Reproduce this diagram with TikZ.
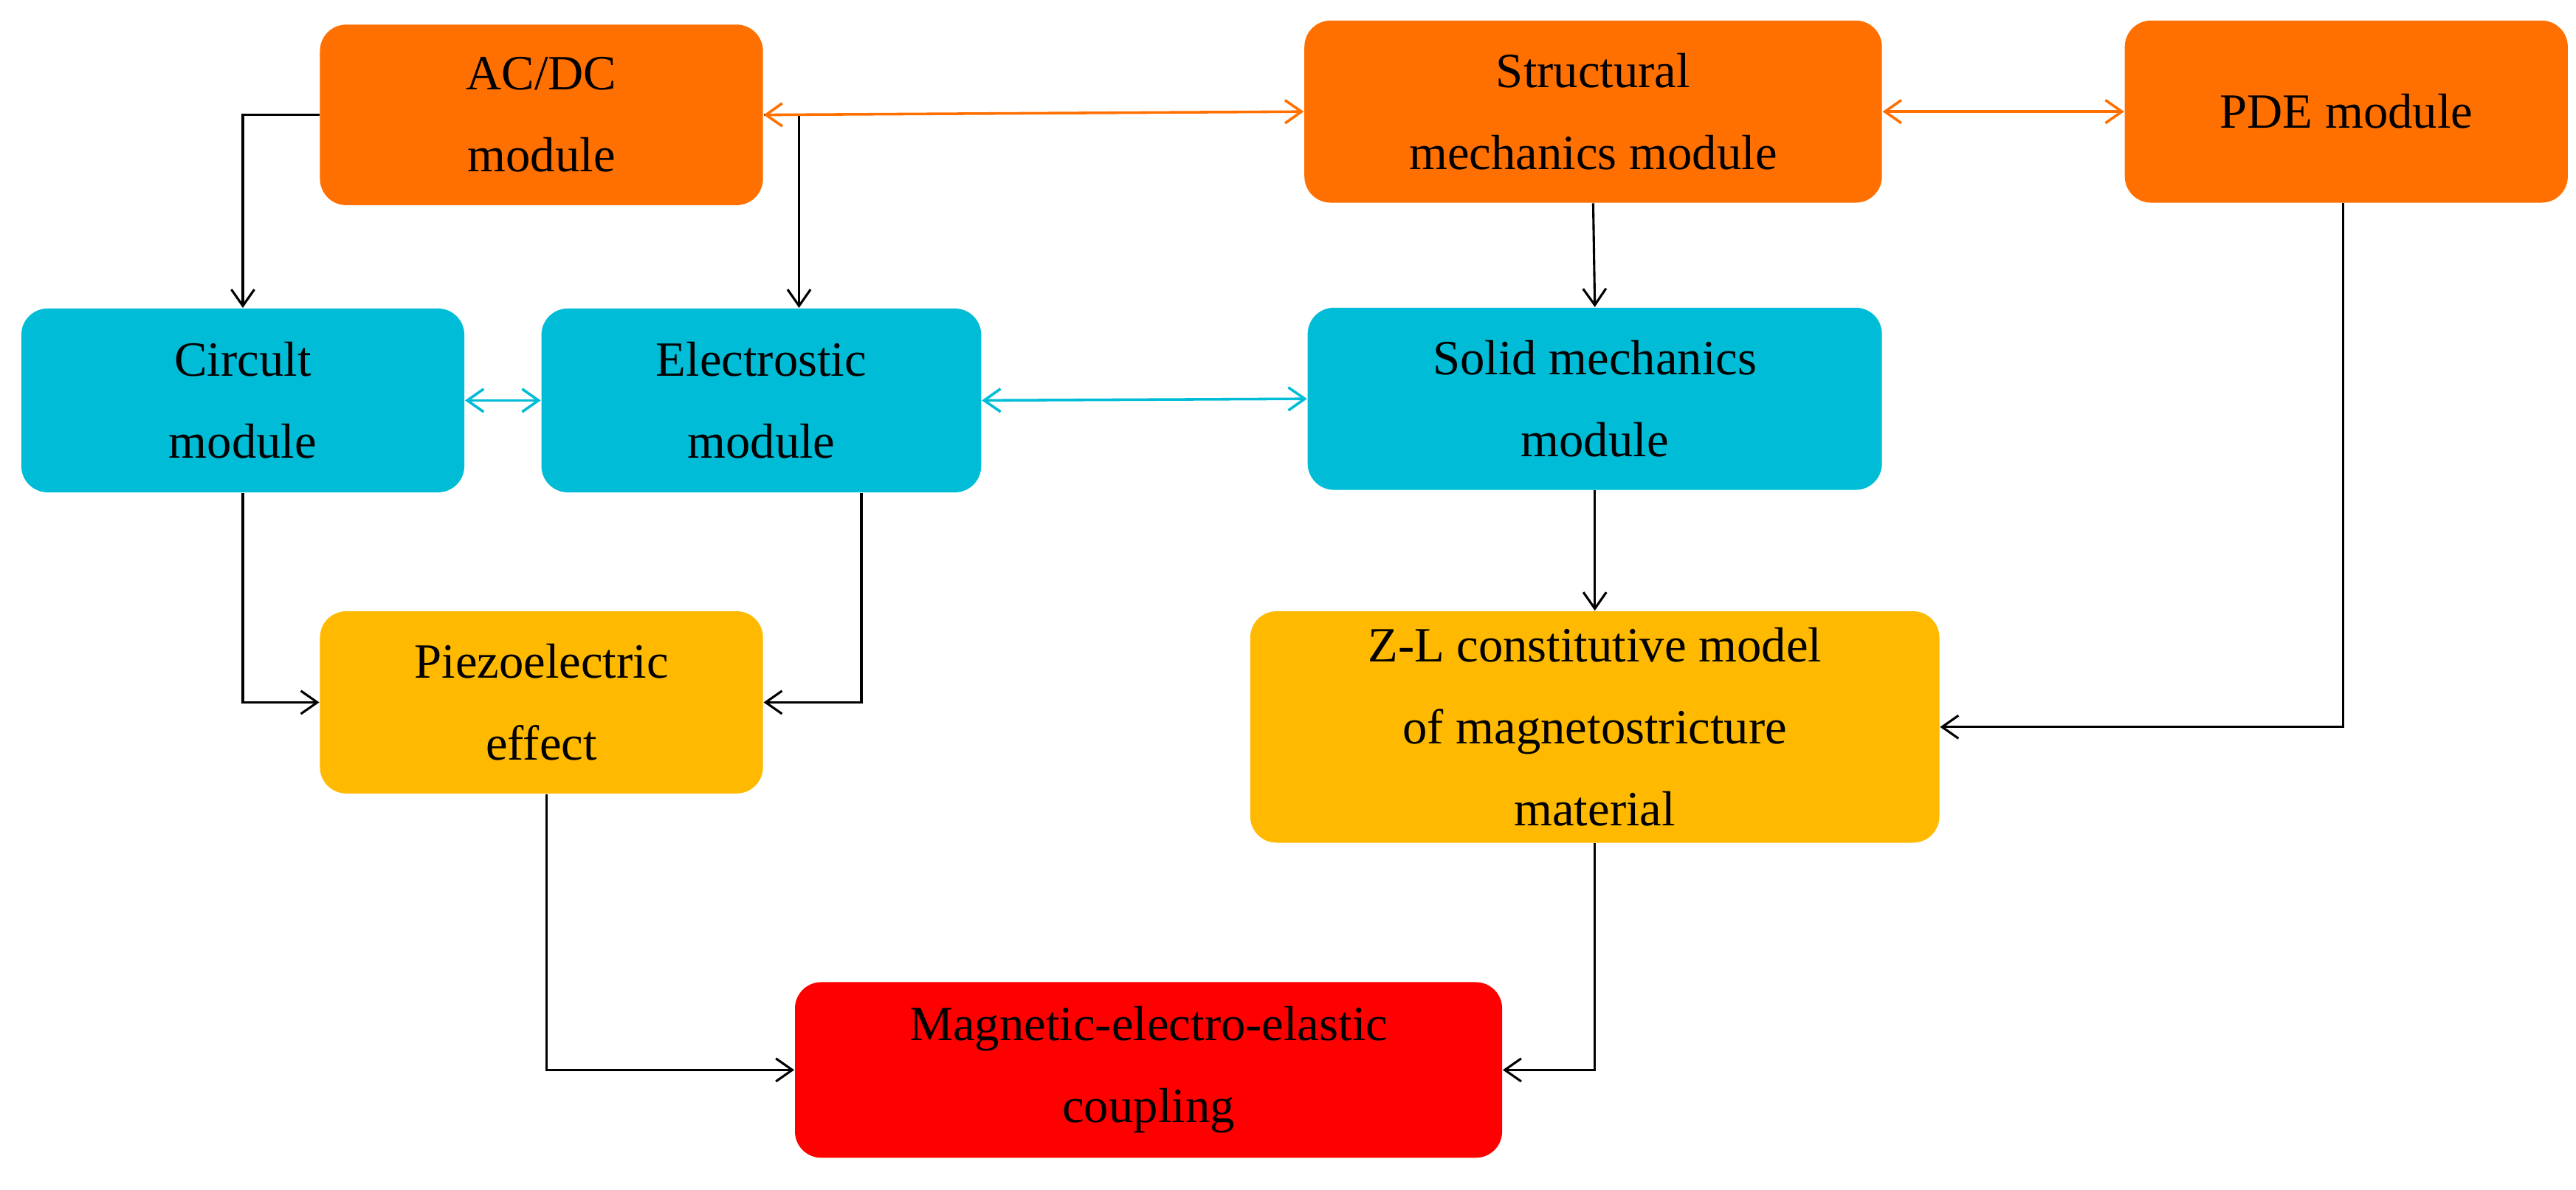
\documentclass[tikz,border=0pt]{standalone}
\usepackage{fontspec}
\setmainfont{Liberation Serif}
\usetikzlibrary{arrows.meta}
\definecolor{org}{HTML}{FF7000}
\definecolor{cyn}{HTML}{00BCD6}
\definecolor{ylw}{HTML}{FFB900}
\definecolor{rd}{HTML}{FF0000}
\begin{document}
\begin{tikzpicture}[x=0.5pt,y=-0.5pt,
 box/.style={rounded corners=8pt,align=center,font=\fontsize{15}{25}\selectfont,inner sep=0pt},
 ar/.style={-{Straight Barb[length=5pt,width=7pt]},line width=0.7pt},
 br/.style={{Straight Barb[length=5pt,width=7pt]}-{Straight Barb[length=5pt,width=7pt]},line width=0.8pt}]
\useasboundingbox (0,0) rectangle (1570,725);
\newcommand\bx[7]{\node[box,fill=#6,minimum width=#4*0.5pt,minimum height=#5*0.5pt] (#1) at (#2,#3) {#7};}
\bx{acdc}{330}{70}{270}{110}{org}{AC/DC\\module}
\bx{str}{971}{68}{352}{111}{org}{Structural\\mechanics module}
\bx{pde}{1430}{68}{270}{111}{org}{PDE module}
\bx{cir}{148}{244}{270}{112}{cyn}{Circult\\module}
\bx{ele}{464}{244}{268}{112}{cyn}{Electrostic\\module}
\bx{sol}{972}{243}{350}{111}{cyn}{Solid mechanics\\module}
\bx{pie}{330}{428}{270}{111}{ylw}{Piezoelectric\\effect}
\bx{zl}{972}{443}{420}{141}{ylw}{Z-L constitutive model\\of magnetostricture\\material}
\bx{mag}{700}{652}{431}{107}{rd}{Magnetic-electro-elastic\\coupling}
\draw[ar] (acdc.west) -| (cir.north);
\draw[ar] (acdc.east) -| (ele.north -| 487,0);
\draw[br,org] (acdc.east) -- (str.west);
\draw[br,org] (str.east) -- (pde.west);
\draw[ar] (str.south) -- (sol.north);
\draw[br,cyn] (cir.east) -- (ele.east -| ele.west);
\draw[br,cyn] (ele.east) -- (sol.west);
\draw[ar] (cir.south) |- (pie.west);
\draw[ar] (ele.south -| 525,0) |- (pie.east);
\draw[ar] (sol.south) -- (zl.north);
\draw[ar] (pde.south -| 1428,0) |- (zl.east);
\draw[ar] (pie.south -| 333,0) |- (mag.west);
\draw[ar] (zl.south) |- (mag.east);
\end{tikzpicture}
\end{document}
